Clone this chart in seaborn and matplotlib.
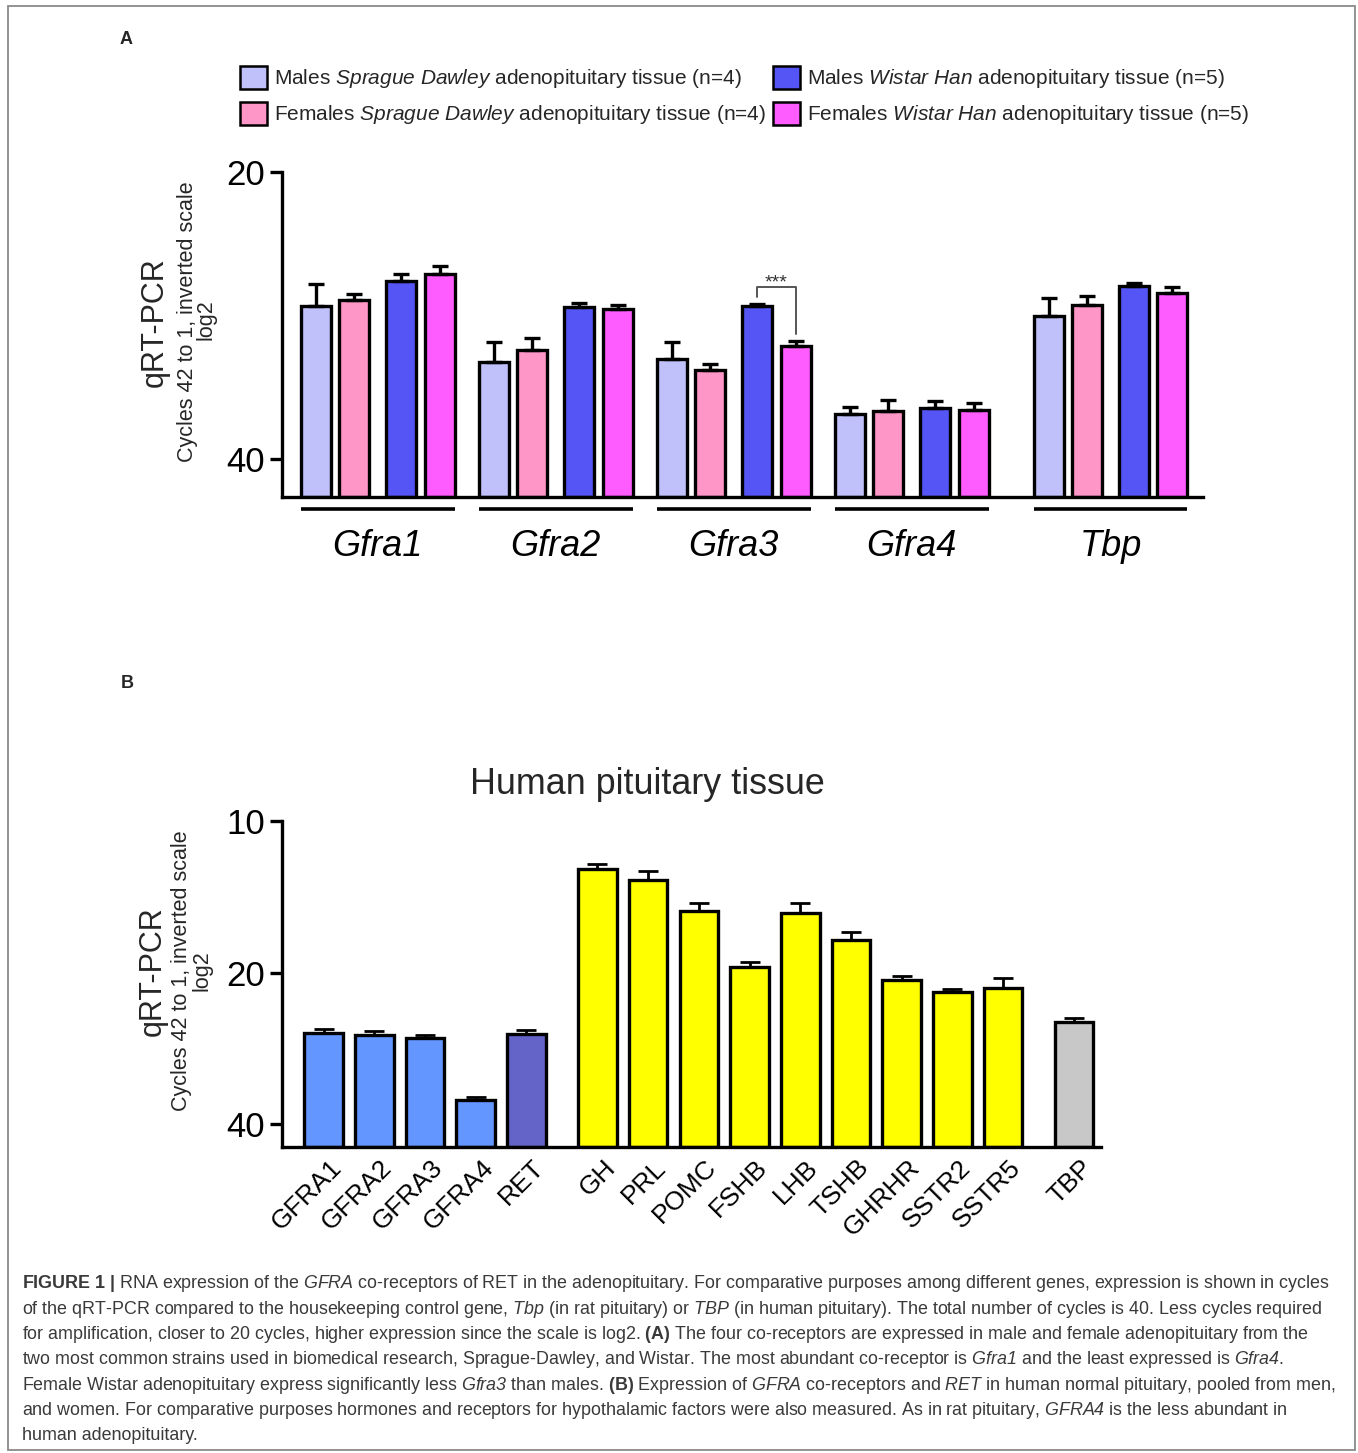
import numpy as np
import pandas as pd
import matplotlib
matplotlib.use("Agg")
import matplotlib.pyplot as plt
import matplotlib.transforms as mtransforms
from matplotlib.patches import Patch, Rectangle
from matplotlib.ticker import NullLocator
import seaborn as sns

sns.set_theme(style="ticks")
plt.rcParams["font.family"] = ["Liberation Sans", "DejaVu Sans"]
plt.rcParams["mathtext.fontset"] = "custom"
plt.rcParams["mathtext.rm"] = "Liberation Sans"
plt.rcParams["mathtext.it"] = "Liberation Sans:italic"
plt.rcParams["mathtext.sf"] = "Liberation Sans:italic"
plt.rcParams["mathtext.bf"] = "Liberation Sans:bold"

# ---------------- data: panel A (rat adenopituitary) ----------------
genes_a = ["Gfra1", "Gfra2", "Gfra3", "Gfra4", "Tbp"]
groups_a = [
    r"Males $\mathsf{Sprague\ Dawley}$ adenopituitary tissue (n=4)",
    r"Females $\mathsf{Sprague\ Dawley}$ adenopituitary tissue (n=4)",
    r"Males $\mathsf{Wistar\ Han}$ adenopituitary tissue (n=5)",
    r"Females $\mathsf{Wistar\ Han}$ adenopituitary tissue (n=5)",
]
males_sd = [27.63, 31.65, 31.42, 35.91, 28.35]
males_sd_sem = [1.40, 1.49, 1.28, 0.60, 1.22]
females_sd = [27.26, 30.73, 32.32, 35.69, 27.59]
females_sd_sem = [0.39, 0.83, 0.51, 0.97, 0.60]
males_wh = [26.02, 27.74, 27.68, 35.43, 26.37]
males_wh_sem = [0.42, 0.26, 0.18, 0.63, 0.19]
females_wh = [25.60, 27.85, 30.45, 35.57, 26.78]
females_wh_sem = [0.49, 0.29, 0.36, 0.57, 0.36]
colors_a = ["#C0C0FA", "#FF96C8", "#5555F5", "#FF5CFF"]
ticks_a = [20, 40]

# ---------------- data: panel B (human pituitary) ----------------
genes_b = ["GFRA1", "GFRA2", "GFRA3", "GFRA4", "RET", "GH", "PRL", "POMC",
           "FSHB", "LHB", "TSHB", "GHRHR", "SSTR2", "SSTR5", "TBP"]
values_b = [26.31, 26.63, 26.92, 35.80, 26.47, 12.47, 13.11, 15.09,
            19.49, 15.20, 17.20, 20.71, 21.88, 21.45, 25.02]
sem_b = [0.44, 0.52, 0.29, 0.44, 0.44, 0.32, 0.54, 0.57,
         0.41, 0.68, 0.59, 0.40, 0.30, 0.96, 0.42]
kind_b = ["GFRA"] * 4 + ["RET"] + ["Hormone"] * 9 + ["Housekeeping"]
colors_b = {"GFRA": "#6496FF", "RET": "#6464C8", "Hormone": "#FFFF00",
            "Housekeeping": "#C8C8C8"}
ticks_b = [10, 20, 40]

# ---------------- figure geometry ----------------
W, H = 1358, 1453
fig = plt.figure(figsize=(W / 100, H / 100), dpi=100)


def fx(x):
    return x / W


def fy(y):
    return 1 - y / H


# ================= Panel A =================
BASE_A = 43.9
offsets = [0.0, 1.0, 2.2, 3.2]
vals_a = [males_sd, females_sd, males_wh, females_wh]
sems_a = [males_sd_sem, females_sd_sem, males_wh_sem, females_wh_sem]
rows = []
for g, gene in enumerate(genes_a):
    base = g * 4.6 + (0.54 if g == 4 else 0.0)
    for h, grp in enumerate(groups_a):
        rows.append(dict(gene=gene, group=grp, x=base + offsets[h],
                         value=vals_a[h][g], sem=sems_a[h][g]))
dfA = pd.DataFrame(rows)
dfA["height"] = dfA["value"] - BASE_A

axA = fig.add_axes([fx(282), fy(497), fx(1203 - 282), (497 - 172) / H])
BW_A = 0.775
sns.barplot(data=dfA, x="x", y="height", hue="group", hue_order=groups_a,
            palette=dict(zip(groups_a, colors_a)), native_scale=True,
            dodge=False, width=BW_A, errorbar=None, saturation=1,
            edgecolor="black", linewidth=2.4, bottom=BASE_A, legend=False,
            ax=axA)
axA.errorbar(dfA["x"], dfA["value"], yerr=[dfA["sem"], np.zeros(len(dfA))],
             fmt="none", ecolor="black", elinewidth=2.4, capsize=5.5,
             capthick=2.4, zorder=3)
axA.set_yscale("log", base=2)
axA.set_ylim(BASE_A, 20)
axA.set_xlim(-0.871, 22.93)
axA.set_yticks(ticks_a)
axA.set_yticklabels([str(t) for t in ticks_a])
axA.yaxis.set_minor_locator(NullLocator())
axA.set_xticks([])
axA.set_xlabel("")
axA.set_ylabel("")
sns.despine(ax=axA)
for s in ["left", "bottom"]:
    axA.spines[s].set_linewidth(2.4)
    axA.spines[s].set_color("black")
axA.tick_params(axis="y", length=9, width=2.4, labelsize=25, pad=3,
                colors="black")

blendA = mtransforms.blended_transform_factory(axA.transData, axA.transAxes)
for g, gene in enumerate(genes_a):
    sub = dfA[dfA["gene"] == gene]
    x0 = sub["x"].min() - BW_A / 2
    x1 = sub["x"].max() + BW_A / 2
    axA.plot([x0, x1], [-0.037, -0.037], transform=blendA, clip_on=False,
             color="black", lw=2.6, solid_capstyle="butt")
    axA.text((x0 + x1) / 2, -0.152, gene, transform=blendA, ha="center",
             va="center", fontsize=26, style="italic", color="black")

# significance bracket Gfra3 males WH vs females WH
sub3 = dfA[dfA["gene"] == "Gfra3"]
xl = sub3["x"].iloc[2]
xr = sub3["x"].iloc[3]
axA.plot([xl, xl, xr, xr], [27.08, 26.44, 26.44, 29.61], color="#555555",
         lw=1.4, clip_on=False, zorder=4)
axA.text((xl + xr) / 2, 26.44, "***", ha="center", va="baseline",
         fontsize=14, color="#333333")

# legend
handles = [Patch(facecolor=c, edgecolor="black", linewidth=1.8)
           for c in colors_a]
fig.legend(handles, groups_a, ncol=2, loc="upper left",
           bbox_to_anchor=(fx(240), fy(66)), frameon=False, fontsize=15,
           handlelength=1.3, handleheight=1.3, handletextpad=0.33,
           columnspacing=0.33, labelspacing=0.56, borderpad=0,
           borderaxespad=0)

# y-axis labels A
fig.text(fx(155), fy(322), "qRT-PCR", rotation=90, ha="center", va="center",
         fontsize=22)
fig.text(fx(187), fy(322), "Cycles 42 to 1, inverted scale", rotation=90,
         ha="center", va="center", fontsize=15.5)
fig.text(fx(206), fy(320), "log2", rotation=90, ha="center", va="center",
         fontsize=15.5)

# ================= Panel B =================
BASE_B = 44.4
posB = [i + 0.4 * (i >= 5) + 0.4 * (i >= 14) for i in range(len(genes_b))]
dfB = pd.DataFrame(dict(gene=genes_b, kind=kind_b, x=posB, value=values_b,
                        sem=sem_b))
dfB["height"] = dfB["value"] - BASE_B

axB = fig.add_axes([fx(282), fy(1147), fx(1101 - 282), (1147 - 821) / H])
sns.barplot(data=dfB, x="x", y="height", hue="kind", palette=colors_b,
            native_scale=True, dodge=False, width=0.76, errorbar=None,
            saturation=1, edgecolor="black", linewidth=2.4, bottom=BASE_B,
            legend=False, ax=axB)
axB.errorbar(dfB["x"], dfB["value"], yerr=[dfB["sem"], np.zeros(len(dfB))],
             fmt="none", ecolor="black", elinewidth=2.0, capsize=7,
             capthick=2.0, zorder=3)
axB.set_yscale("log", base=2)
axB.set_ylim(BASE_B, 10)
axB.set_xlim(-0.82, 15.33)
axB.set_yticks(ticks_b)
axB.set_yticklabels([str(t) for t in ticks_b])
axB.yaxis.set_minor_locator(NullLocator())
axB.set_xticks(posB)
axB.set_xticklabels(genes_b, rotation=45, ha="right", va="center",
                    rotation_mode="anchor", fontsize=19)
axB.set_xlabel("")
axB.set_ylabel("")
sns.despine(ax=axB)
for s in ["left", "bottom"]:
    axB.spines[s].set_linewidth(2.4)
    axB.spines[s].set_color("black")
axB.tick_params(axis="y", length=9, width=2.4, labelsize=25, pad=3,
                colors="black")
axB.tick_params(axis="x", length=0, pad=12, colors="black")
shift = mtransforms.ScaledTranslation(14 / 100, 0, fig.dpi_scale_trans)
for lab in axB.get_xticklabels():
    lab.set_transform(lab.get_transform() + shift)

fig.text(fx(647), fy(785), "Human pituitary tissue", ha="center",
         va="center", fontsize=25.8)
fig.text(fx(153), fy(971), "qRT-PCR", rotation=90, ha="center", va="center",
         fontsize=22)
fig.text(fx(181), fy(971), "Cycles 42 to 1, inverted scale", rotation=90,
         ha="center", va="center", fontsize=15.5)
fig.text(fx(202), fy(971), "log2", rotation=90, ha="center", va="center",
         fontsize=15.5)

# panel letters
fig.text(fx(126), fy(39), "A", ha="center", va="center", fontsize=13,
         fontweight="bold")
fig.text(fx(127), fy(683), "B", ha="center", va="center", fontsize=13,
         fontweight="bold")

# caption
caption = [
    r"$\mathbf{FIGURE\ 1\ |}$ RNA expression of the $\mathsf{GFRA}$ co-receptors of RET in the adenopituitary. For comparative purposes among different genes, expression is shown in cycles",
    r"of the qRT-PCR compared to the housekeeping control gene, $\mathsf{Tbp}$ (in rat pituitary) or $\mathsf{TBP}$ (in human pituitary). The total number of cycles is 40. Less cycles required",
    r"for amplification, closer to 20 cycles, higher expression since the scale is log2. $\mathbf{(A)}$ The four co-receptors are expressed in male and female adenopituitary from the",
    r"two most common strains used in biomedical research, Sprague-Dawley, and Wistar. The most abundant co-receptor is $\mathsf{Gfra1}$ and the least expressed is $\mathsf{Gfra4}$.",
    r"Female Wistar adenopituitary express significantly less $\mathsf{Gfra3}$ than males. $\mathbf{(B)}$ Expression of $\mathsf{GFRA}$ co-receptors and $\mathsf{RET}$ in human normal pituitary, pooled from men,",
    r"and women. For comparative purposes hormones and receptors for hypothalamic factors were also measured. As in rat pituitary, $\mathsf{GFRA4}$ is the less abundant in",
    "human adenopituitary.",
]
for i, line in enumerate(caption):
    fig.text(fx(22), fy(1284 + 25.3 * i), line, ha="left", va="center",
             fontsize=12.9, color="#3a3a3a")

# outer frame
fig.patches.append(Rectangle((fx(8), fy(1450)), fx(1355 - 8), (1450 - 6) / H,
                             transform=fig.transFigure, fill=False,
                             edgecolor="#8a8a8a", linewidth=1.3))

fig.savefig("out.png", dpi=100)
